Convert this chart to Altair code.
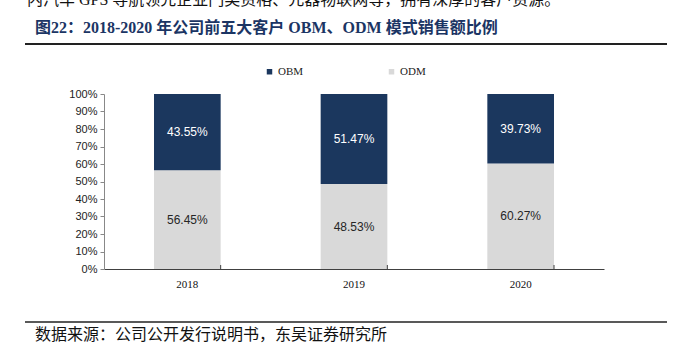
import altair as alt
import pandas as pd

years = ["2018", "2019", "2020"]
obm = [43.55, 51.47, 39.73]
odm = [56.45, 48.53, 60.27]
series = ["OBM", "ODM"]
colors = ["#1B375E", "#D9D9D9"]

title_text = "图22：2018-2020 年公司前五大客户 OBM、ODM 模式销售额比例"
source_text = "数据来源：公司公开发行说明书，东吴证券研究所"
top_text = "内汽车 GPS 导航领先企业门类资格、元器物联网等，拥有深厚的客户资源。"

rows = []
for i, y in enumerate(years):
    rows.append({"year": y, "series": "ODM", "value": odm[i] / 100, "ord": 0})
    rows.append({"year": y, "series": "OBM", "value": obm[i] / 100, "ord": 1})
df = pd.DataFrame(rows)

W, H = 500, 175
serif = "Liberation Serif, Noto Sans CJK SC"
sans = "Liberation Sans, Arial"

base = alt.Chart(df).transform_stack(
    stack="value", groupby=["year"], sort=[alt.SortField("ord")], as_=["y0", "y1"]
).transform_calculate(mid="(datum.y0 + datum.y1) / 2")

xscale = alt.Scale(domain=years, paddingInner=0.6, paddingOuter=0.3)
xaxis = alt.Axis(ticks=False, labelAngle=0, labelFont=serif, labelFontSize=11,
                 labelColor="#111", labelPadding=9, domainColor="#404040")
yscale = alt.Scale(domain=[0, 1], nice=False)
yaxis = alt.Axis(format=".0%", values=[i / 10 for i in range(11)], grid=False,
                 labelOverlap=False, tickSize=4, tickColor="#888", domainColor="#888",
                 labelFont=sans, labelFontSize=11, labelColor="#222", labelPadding=3)

bars = base.mark_bar().encode(
    x=alt.X("year:N", title=None, scale=xscale, axis=xaxis),
    y=alt.Y("y0:Q", title=None, scale=yscale, axis=yaxis),
    y2="y1:Q",
    color=alt.Color("series:N", scale=alt.Scale(domain=series, range=colors),
                    legend=alt.Legend(title=None, orient="none", legendX=160, legendY=-28,
                                      direction="horizontal", symbolType="square",
                                      symbolSize=30, symbolStrokeWidth=0,
                                      labelFont=serif, labelFontSize=11, labelColor="#222",
                                      columnPadding=82, labelOffset=3)),
)

labels = base.mark_text(font=sans, fontSize=12).encode(
    x=alt.X("year:N", title=None, scale=xscale, axis=xaxis),
    y=alt.Y("mid:Q", title=None, scale=yscale, axis=yaxis),
    text=alt.Text("value:Q", format=".2%"),
    color=alt.condition(alt.datum.series == "OBM", alt.value("white"), alt.value("#262626")),
)

ticks = alt.Chart(pd.DataFrame({"year": years})).mark_rule(color="#404040").encode(
    x=alt.X("year:N", title=None, scale=xscale, axis=xaxis, bandPosition=1),
    y=alt.value(H - 4), y2=alt.value(H),
)

txt = pd.DataFrame({"t": [title_text]})
title = alt.Chart(txt).mark_text(align="left", baseline="middle", font=serif, fontSize=16,
                                 fontWeight="bold", color="#1B3564").encode(
    text="t:N", x=alt.value(-69), y=alt.value(-66))
src = alt.Chart(pd.DataFrame({"t": [source_text]})).mark_text(
    align="left", baseline="middle", font=serif, fontSize=16, color="#111").encode(
    text="t:N", x=alt.value(-69), y=alt.value(241))
top = alt.Chart(pd.DataFrame({"t": [top_text]})).mark_text(
    align="left", baseline="bottom", font=serif, fontSize=16, color="#111").encode(
    text="t:N", x=alt.value(-77), y=alt.value(-86))

line_top = alt.Chart(pd.DataFrame({"a": [0]})).mark_rule(color="#222", strokeWidth=2).encode(
    x=alt.value(-79), x2=alt.value(563), y=alt.value(-50))
line_bot = alt.Chart(pd.DataFrame({"a": [0]})).mark_rule(color="#222", strokeWidth=1.5).encode(
    x=alt.value(-79), x2=alt.value(563), y=alt.value(228))

chart = alt.layer(bars, labels, ticks, title, src, top, line_top, line_bot).properties(
    width=W, height=H,
    background="white",
    autosize=alt.AutoSizeParams(type="none"),
    padding={"left": 104, "top": 94, "right": 81, "bottom": 80},
).configure_view(strokeWidth=0, stroke="transparent")

chart.save("out.html", embed_options={"renderer": "svg", "actions": False})
